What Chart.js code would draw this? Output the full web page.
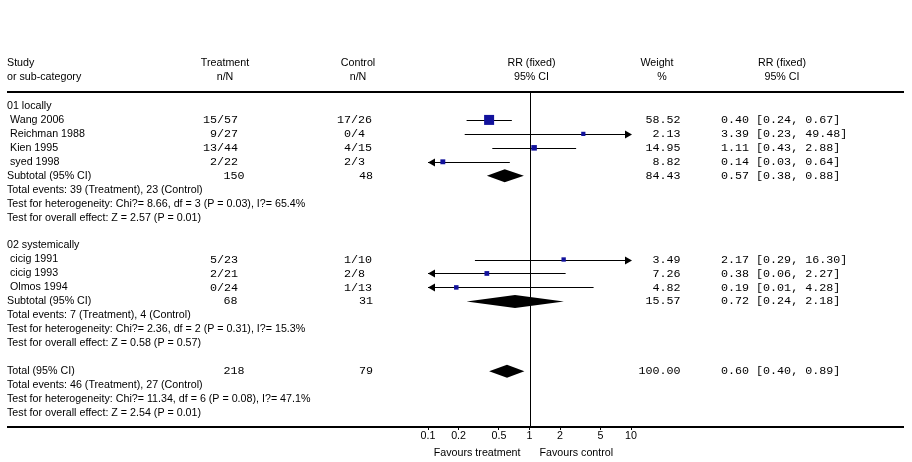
<!DOCTYPE html>
<html><head><meta charset="utf-8">
<script src="https://cdn.jsdelivr.net/npm/chart.js@4"></script>
<style>html,body{margin:0;padding:0;background:#fff;}#wrap{width:912px;height:462px;position:relative}</style>
</head><body><div id="wrap"><canvas id="c" width="912" height="462"></canvas></div>
<script>
// ---- data ----
const studies = ['Wang 2006','Reichman 1988','Kien 1995','syed 1998','cicig 1991','cicig 1993','Olmos 1994'];
const studyRows = [1,2,3,4,11,12,13];
const treatment = ['15/57','9/27','13/44','2/22','5/23','2/21','0/24'];
const control = ['17/26','0/4','4/15','2/3','1/10','2/8','1/13'];
const weights = [58.52,2.13,14.95,8.82,3.49,7.26,4.82];
const rr = [0.40,3.39,1.11,0.14,2.17,0.38,0.19];
const lower = [0.24,0.23,0.43,0.03,0.29,0.06,0.01];
const upper = [0.67,49.48,2.88,0.64,16.30,2.27,4.28];

const pooledLabels = ['Subtotal (95% CI)','Subtotal (95% CI)','Total (95% CI)'];
const pooledRows = [5,14,19];
const pooledTreatN = ['150','68','218'];
const pooledControlN = ['48','31','79'];
const pooledWeights = [84.43,15.57,100.00];
const pooledRR = [0.57,0.72,0.60];
const pooledLower = [0.38,0.24,0.40];
const pooledUpper = [0.88,2.18,0.89];

const groupLabels = ['01 locally','02 systemically'];
const groupRows = [0,10];
const noteLines = [
  'Total events: 39 (Treatment), 23 (Control)',
  'Test for heterogeneity: Chi?= 8.66, df = 3 (P = 0.03), I?= 65.4%',
  'Test for overall effect: Z = 2.57 (P = 0.01)',
  'Total events: 7 (Treatment), 4 (Control)',
  'Test for heterogeneity: Chi?= 2.36, df = 2 (P = 0.31), I?= 15.3%',
  'Test for overall effect: Z = 0.58 (P = 0.57)',
  'Total events: 46 (Treatment), 27 (Control)',
  'Test for heterogeneity: Chi?= 11.34, df = 6 (P = 0.08), I?= 47.1%',
  'Test for overall effect: Z = 2.54 (P = 0.01)'
];
const noteRows = [6,7,8,15,16,17,20,21,22];

const tickValues = [0.1,0.2,0.5,1,2,5,10];
const tickLabels = ['0.1','0.2','0.5','1','2','5','10'];
const favourLeft = 'Favours treatment';
const favourRight = 'Favours control';

// ---- styles ----
const SANS = "10.7px 'Liberation Sans', Arial, sans-serif";
const MONO = "11.7px 'Liberation Mono', 'Courier New', monospace";
const BLUE = '#12129c';

const fmtCI = (m,l,u) => m.toFixed(2)+' ['+l.toFixed(2)+', '+u.toFixed(2)+']';

const forestPlugin = {
  id: 'forest',
  beforeDatasetsDraw(chart) {
    const {ctx, chartArea: a, scales: {x, y}} = chart;
    ctx.save();
    ctx.fillStyle = '#000';
    // horizontal rules
    ctx.fillRect(7, a.top - 1, 897, 2);
    ctx.fillRect(7, a.bottom - 1, 897, 2);
    // line of no effect
    const x1 = Math.round(x.getPixelForValue(1)) + 0.5;
    ctx.strokeStyle = '#000'; ctx.lineWidth = 1;
    ctx.beginPath(); ctx.moveTo(x1, a.top); ctx.lineTo(x1, a.bottom); ctx.stroke();
    // CI lines
    for (let i = 0; i < rr.length; i++) {
      const yy = Math.round(y.getPixelForValue(studyRows[i])) + 0.5;
      const lo = Math.max(lower[i], x.min), hi = Math.min(upper[i], x.max);
      const xl = x.getPixelForValue(lo), xr = x.getPixelForValue(hi);
      ctx.beginPath(); ctx.moveTo(xl, yy); ctx.lineTo(xr, yy); ctx.stroke();
      if (lower[i] < x.min) {
        ctx.beginPath(); ctx.moveTo(xl, yy); ctx.lineTo(xl + 7, yy - 4); ctx.lineTo(xl + 7, yy + 4); ctx.closePath(); ctx.fill();
      }
      if (upper[i] > x.max) {
        ctx.beginPath(); ctx.moveTo(xr + 1, yy); ctx.lineTo(xr - 6, yy - 4); ctx.lineTo(xr - 6, yy + 4); ctx.closePath(); ctx.fill();
      }
    }
    // diamonds
    for (let j = 0; j < pooledRR.length; j++) {
      const yc = y.getPixelForValue(pooledRows[j]);
      const xl = x.getPixelForValue(pooledLower[j]);
      const xc = x.getPixelForValue(pooledRR[j]);
      const xr = x.getPixelForValue(pooledUpper[j]);
      ctx.beginPath();
      ctx.moveTo(xl, yc); ctx.lineTo(xc, yc - 6.5); ctx.lineTo(xr, yc); ctx.lineTo(xc, yc + 6.5); ctx.closePath();
      ctx.fill();
    }
    ctx.restore();
  },
  afterDraw(chart) {
    const {ctx, scales: {x, y}} = chart;
    const x1 = x.getPixelForValue(1);
    ctx.save();
    ctx.fillStyle = '#000';
    ctx.textBaseline = 'middle';
    const t = (s, px, py, align, font) => { ctx.font = font; ctx.textAlign = align; ctx.fillText(s, px, py); };
    // headers
    t('Study', 7, 63.5, 'left', SANS);
    t('or sub-category', 7, 77, 'left', SANS);
    t('Treatment', 225, 63.5, 'center', SANS);
    t('n/N', 225, 77, 'center', SANS);
    t('Control', 358, 63.5, 'center', SANS);
    t('n/N', 358, 77, 'center', SANS);
    t('RR (fixed)', x1 + 2, 63.5, 'center', SANS);
    t('95% CI', x1 + 2, 77, 'center', SANS);
    t('Weight', 657, 63.5, 'center', SANS);
    t('%', 662, 77, 'center', SANS);
    t('RR (fixed)', 782, 63.5, 'center', SANS);
    t('95% CI', 782, 77, 'center', SANS);
    // groups
    groupLabels.forEach((g, i) => t(g, 7, y.getPixelForValue(groupRows[i]), 'left', SANS));
    // studies
    studies.forEach((s, i) => {
      const py = y.getPixelForValue(studyRows[i]);
      t(s, 10, py, 'left', SANS);
      t(treatment[i], 238, py, 'right', MONO);
      const parts = control[i].split('/');
      t(parts[0], 351, py, 'right', MONO);
      t('/' + parts[1], 351, py, 'left', MONO);
      t(weights[i].toFixed(2), 680.5, py, 'right', MONO);
      t(fmtCI(rr[i], lower[i], upper[i]), 721, py, 'left', MONO);
    });
    // pooled
    pooledLabels.forEach((s, i) => {
      const py = y.getPixelForValue(pooledRows[i]);
      t(s, 7, py, 'left', SANS);
      t(pooledTreatN[i], 223.5, py, 'left', MONO);
      t(pooledControlN[i], 373, py, 'right', MONO);
      t(pooledWeights[i].toFixed(2), 680.5, py, 'right', MONO);
      t(fmtCI(pooledRR[i], pooledLower[i], pooledUpper[i]), 721, py, 'left', MONO);
    });
    // notes
    noteLines.forEach((s, i) => t(s, 7, y.getPixelForValue(noteRows[i]), 'left', SANS));
    // favours
    t(favourLeft, x1 - 9, 453.5, 'right', SANS);
    t(favourRight, x1 + 10, 453.5, 'left', SANS);
    ctx.restore();
  }
};

new Chart(document.getElementById('c'), {
  type: 'scatter',
  data: {
    datasets: [{
      data: rr.map((v, i) => ({x: v, y: studyRows[i]})),
      pointStyle: 'rect',
      pointRadius: weights.map(w => (4 + 6 * w / 58.52) / Math.SQRT2),
      backgroundColor: BLUE,
      borderWidth: 0,
      showLine: false
    }]
  },
  options: {
    responsive: false,
    animation: false,
    devicePixelRatio: 1,
    events: [],
    layout: {padding: {left: 428, right: 281, top: 92, bottom: 0}},
    plugins: {legend: {display: false}, tooltip: {enabled: false}},
    scales: {
      x: {
        type: 'logarithmic',
        min: 0.1, max: 10,
        afterBuildTicks: s => { s.ticks = tickValues.map(v => ({value: v})); },
        afterFit: s => { s.height = 35; },
        border: {display: false},
        grid: {display: true, drawOnChartArea: false, drawTicks: true, tickLength: 3, color: '#000'},
        ticks: {
          autoSkip: false, maxRotation: 0, padding: 0, color: '#000',
          font: {family: "'Liberation Sans', Arial, sans-serif", size: 10.7},
          callback: (v, i) => tickLabels[i]
        }
      },
      y: {type: 'linear', reverse: true, min: -1, max: 23, display: false}
    }
  },
  plugins: [forestPlugin]
});
</script>
</body></html>
